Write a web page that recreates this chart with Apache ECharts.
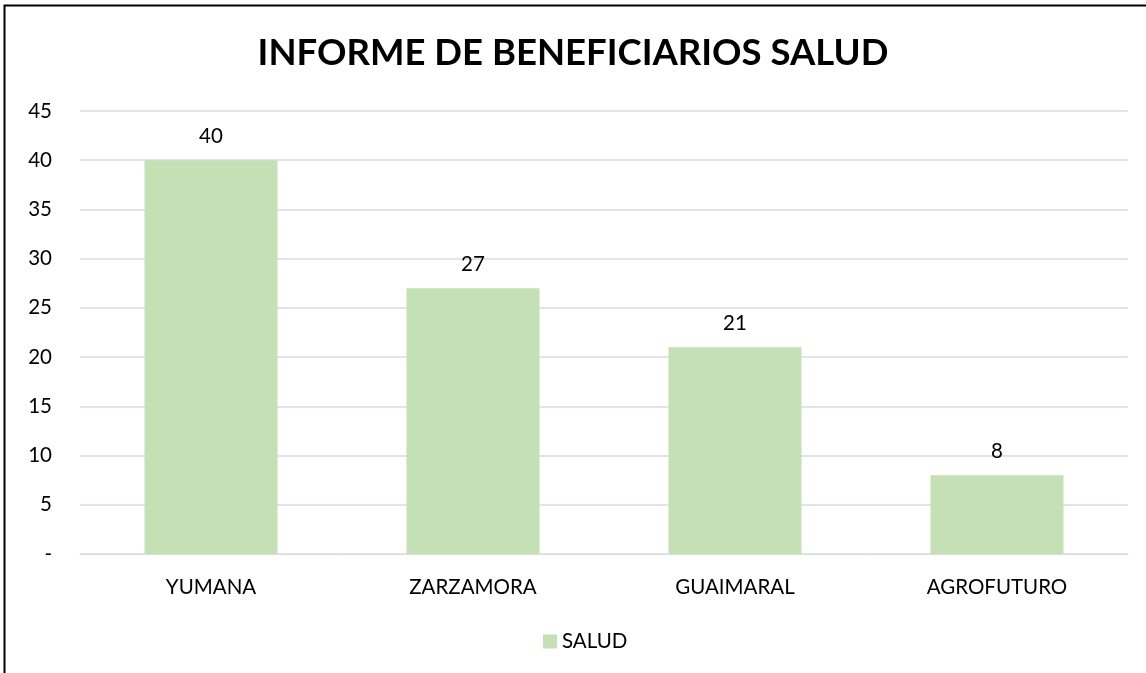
<!DOCTYPE html>
<html><head><meta charset="utf-8">
<script src="https://cdn.jsdelivr.net/npm/echarts@6/dist/echarts.min.js"></script>
<style>html,body{margin:0;padding:0;background:#fff}#c{width:1146px;height:673px}</style>
</head><body><div id="c"></div>
<script>
const categories = ['YUMANA', 'ZARZAMORA', 'GUAIMARAL', 'AGROFUTURO'];
const seriesName = 'SALUD';
const values = [40, 27, 21, 8];
const titleText = 'INFORME DE BENEFICIARIOS SALUD';

const FONT = 'Lato';
const chart = echarts.init(document.getElementById('c'), null, {renderer: 'canvas'});
chart.setOption({
  animation: false,
  backgroundColor: '#fff',
  graphic: [{
    type: 'rect', shape: {x: 4.5, y: 5.5, width: 1160, height: 700},
    style: {fill: 'none', stroke: '#000', lineWidth: 2}, silent: true
  }],
  title: {
    text: titleText, left: 'center', top: 30,
    textStyle: {fontFamily: FONT, fontWeight: 'bold', fontSize: 36.5, color: '#000'}
  },
  legend: {
    data: [seriesName], bottom: 16, left: 538,
    icon: 'rect', itemWidth: 14, itemHeight: 14, itemGap: 6,
    textStyle: {fontFamily: FONT, fontSize: 20.5, color: '#000'}
  },
  grid: {left: 80, right: 18, top: 111, bottom: 119, containLabel: false},
  xAxis: {
    type: 'category', data: categories,
    axisLine: {show: true, lineStyle: {color: '#d9dde3', width: 1}},
    axisTick: {show: false},
    axisLabel: {fontFamily: FONT, fontSize: 20.5, color: '#000', margin: 23}
  },
  yAxis: {
    type: 'value', min: 0, max: 45, interval: 5,
    axisLine: {show: false}, axisTick: {show: false},
    splitLine: {lineStyle: {color: '#e0e4ea', width: 2}},
    axisLabel: {fontFamily: FONT, fontSize: 20.5, color: '#000', margin: 28,
      formatter: v => v === 0 ? '-' : String(v)}
  },
  series: [{
    name: seriesName, type: 'bar', data: values,
    barWidth: 133,
    itemStyle: {color: '#c5e0b4'},
    label: {show: true, position: 'top', distance: 13,
      fontFamily: FONT, fontSize: 20.5, color: '#000'}
  }]
});
</script></body></html>
